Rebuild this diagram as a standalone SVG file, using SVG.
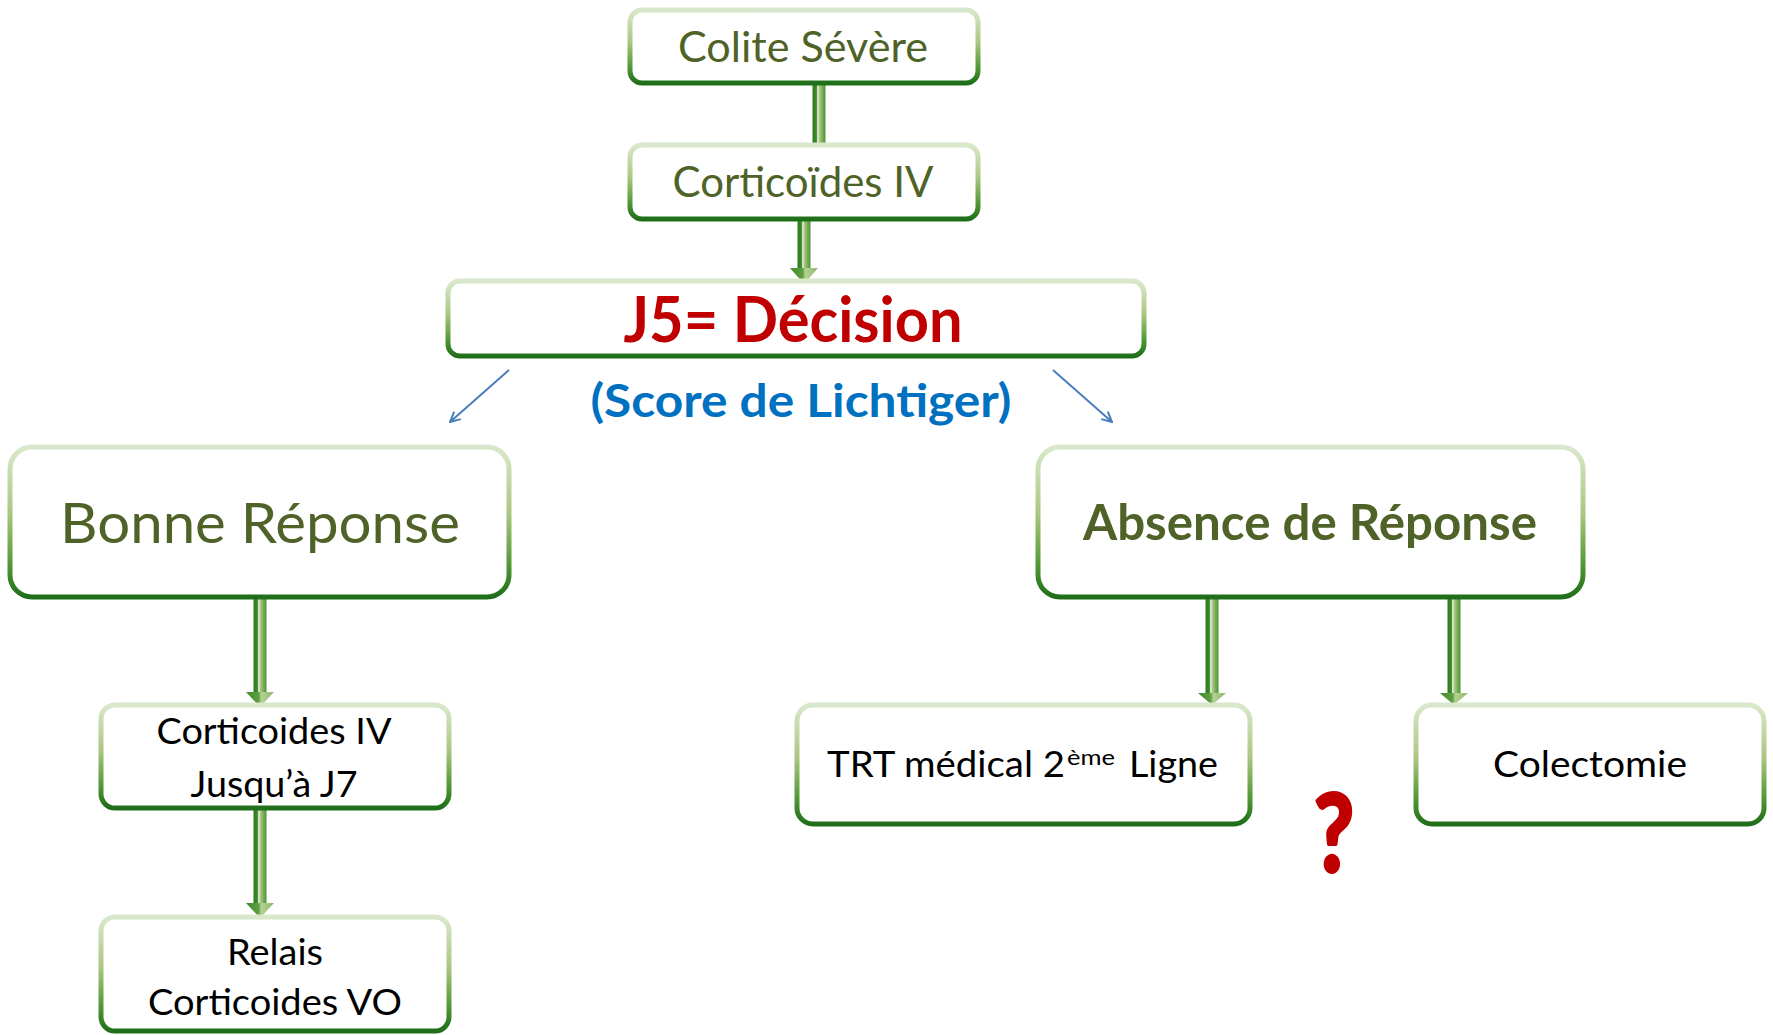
<svg xmlns="http://www.w3.org/2000/svg" width="1773" height="1035" viewBox="0 0 1773 1035">
<defs>
<linearGradient id="boxStroke" x1="0" y1="0" x2="0" y2="1">
<stop offset="0" stop-color="#D9E8CC"/>
<stop offset="0.45" stop-color="#A9C67F"/>
<stop offset="0.8" stop-color="#4E9632"/>
<stop offset="1" stop-color="#1F6E1A"/>
</linearGradient>
<linearGradient id="shaft" x1="0" y1="0" x2="1" y2="0">
<stop offset="0" stop-color="#2C7A1E"/>
<stop offset="0.3" stop-color="#3F8A2A"/>
<stop offset="0.4" stop-color="#EAF2E0"/>
<stop offset="0.55" stop-color="#A6C67F"/>
<stop offset="1" stop-color="#4A9232"/>
</linearGradient>
<linearGradient id="head" x1="0" y1="0" x2="1" y2="0">
<stop offset="0" stop-color="#3C8A28"/>
<stop offset="0.45" stop-color="#5FA043"/>
<stop offset="0.55" stop-color="#B4D194"/>
<stop offset="1" stop-color="#8FB86A"/>
</linearGradient>
<marker id="blueHead" viewBox="0 0 12 12" refX="11" refY="6" markerWidth="12" markerHeight="12" markerUnits="userSpaceOnUse" orient="auto">
<path d="M1,1 L11,6 L1,11" fill="none" stroke="#4A7EBB" stroke-width="2"/>
</marker>
</defs>
<style>
.box{fill:#FFFFFF;stroke:url(#boxStroke);stroke-width:5}
.t{font-family:Lato,"Open Sans","Liberation Sans",sans-serif;text-anchor:middle}
.olive{fill:#4F6228}
.blk{fill:#000000}
.sh{fill:url(#shaft)}
.hd{fill:url(#head)}
.blue{stroke:#4A7EBB;stroke-width:2;fill:none}
</style>
<rect width="1773" height="1035" fill="#FFFFFF"/>

<g id="connectors">
<rect class="sh" x="812.5" y="82" width="13" height="62"/>
<rect class="sh" x="797.5" y="219" width="13" height="50"/>
<polygon class="hd" points="790,268 818,268 804,284"/>
<rect class="sh" x="253.5" y="596" width="13" height="97"/>
<polygon class="hd" points="246,692 274,692 260,707"/>
<rect class="sh" x="253.5" y="807" width="13" height="97"/>
<polygon class="hd" points="246,903 274,903 260,918"/>
<rect class="sh" x="1205.5" y="596" width="13" height="98"/>
<polygon class="hd" points="1198,693 1226,693 1212,705"/>
<rect class="sh" x="1447.5" y="596" width="13" height="98"/>
<polygon class="hd" points="1440,693 1468,693 1454,705"/>
<line class="blue" x1="509" y1="370" x2="450" y2="422" marker-end="url(#blueHead)"/>
<line class="blue" x1="1053" y1="370" x2="1112" y2="422" marker-end="url(#blueHead)"/>
</g>

<g id="colite">
<rect class="box" x="630" y="10" width="348" height="73" rx="12"/>
<text class="t olive" x="803" y="62" font-size="42" textLength="250" lengthAdjust="spacingAndGlyphs">Colite Sévère</text>
</g>

<g id="corticoides-iv">
<rect class="box" x="630" y="145" width="348" height="74" rx="12"/>
<text class="t olive" x="803" y="197" font-size="42" textLength="261" lengthAdjust="spacingAndGlyphs">Corticoïdes IV</text>
</g>

<g id="decision">
<rect class="box" x="448" y="281" width="696" height="75" rx="12"/>
<text class="t" x="793" y="342" font-size="63" font-weight="bold" fill="#C00000" textLength="339" lengthAdjust="spacingAndGlyphs">J5= Décision</text>
<text class="t" x="801" y="417" font-size="45" font-weight="bold" fill="#0070C0" textLength="421" lengthAdjust="spacingAndGlyphs">(Score de Lichtiger)</text>
</g>

<g id="bonne-reponse">
<rect class="box" x="10" y="447" width="499" height="150" rx="22"/>
<text class="t olive" x="260" y="543" font-size="56" textLength="400" lengthAdjust="spacingAndGlyphs">Bonne Réponse</text>
</g>

<g id="absence-reponse">
<rect class="box" x="1038" y="447" width="545" height="150" rx="22"/>
<text class="t olive" x="1310" y="540" font-size="49" font-weight="bold" textLength="454" lengthAdjust="spacingAndGlyphs">Absence de Réponse</text>
</g>

<g id="corticoides-j7">
<rect class="box" x="101" y="705" width="348" height="103" rx="14"/>
<text class="t blk" x="274" y="744" font-size="36" textLength="235" lengthAdjust="spacingAndGlyphs">Corticoides IV</text>
<text class="t blk" x="274" y="797" font-size="36" textLength="167" lengthAdjust="spacingAndGlyphs">Jusqu’à J7</text>
</g>

<g id="relais">
<rect class="box" x="101" y="917" width="348" height="114" rx="14"/>
<text class="t blk" x="275" y="965" font-size="36" textLength="96" lengthAdjust="spacingAndGlyphs">Relais</text>
<text class="t blk" x="275" y="1015" font-size="36" textLength="254" lengthAdjust="spacingAndGlyphs">Corticoides VO</text>
</g>

<g id="trt">
<rect class="box" x="797" y="705" width="453" height="119" rx="16"/>
<text class="blk" x="827" y="777" font-family="Lato,'Open Sans','Liberation Sans',sans-serif" font-size="36" textLength="238" lengthAdjust="spacingAndGlyphs">TRT médical 2</text>
<text class="blk" x="1067" y="765" font-family="Lato,'Open Sans','Liberation Sans',sans-serif" font-size="22" textLength="48" lengthAdjust="spacingAndGlyphs">ème</text>
<text class="blk" x="1129" y="777" font-family="Lato,'Open Sans','Liberation Sans',sans-serif" font-size="36" textLength="89" lengthAdjust="spacingAndGlyphs">Ligne</text>
</g>

<g id="colectomie">
<rect class="box" x="1416" y="705" width="348" height="119" rx="16"/>
<text class="t blk" x="1590" y="777" font-size="36" textLength="194" lengthAdjust="spacingAndGlyphs">Colectomie</text>
</g>

<g id="question">
<text class="t" x="1334" y="871" font-size="108" font-weight="bold" fill="#C00000" stroke="#C00000" stroke-width="4" stroke-linejoin="round" textLength="40" lengthAdjust="spacingAndGlyphs">?</text>
</g>
</svg>
